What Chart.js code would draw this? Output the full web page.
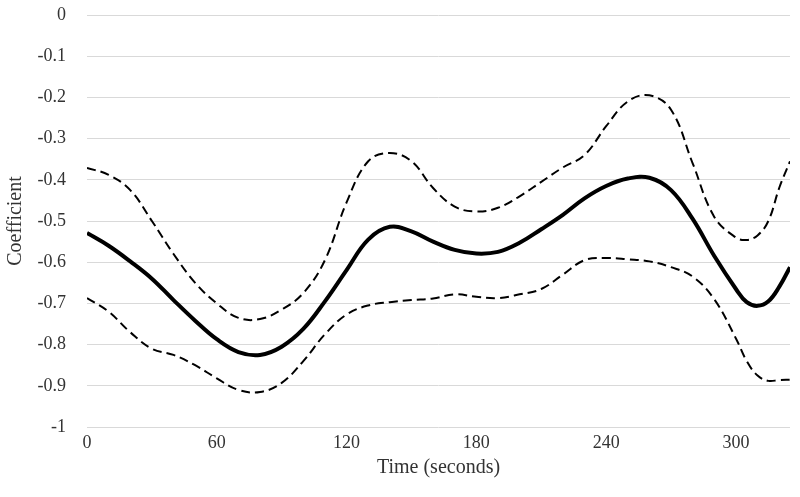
<!DOCTYPE html>
<html>
<head>
<meta charset="utf-8">
<script src="https://cdn.jsdelivr.net/npm/chart.js@4.4.1/dist/chart.umd.min.js"></script>
<style>
  html, body { margin: 0; padding: 0; background: #fff; }
</style>
</head>
<body>
<canvas id="coefChart" width="800" height="497"></canvas>
<script>
// time in seconds
const seconds = [0, 10, 20, 30, 40, 50, 60, 70, 80, 90, 100, 110, 120, 130, 140, 150, 160, 170, 180,
  190, 200, 210, 220, 230, 240, 250, 260, 270, 280, 290, 300, 305, 310, 315, 320, 325];

const coefficient = [-0.529, -0.56, -0.598, -0.64, -0.692, -0.742, -0.787, -0.818, -0.825, -0.805,
  -0.762, -0.695, -0.619, -0.545, -0.514, -0.525, -0.55, -0.57, -0.579, -0.575, -0.553, -0.52,
  -0.485, -0.445, -0.415, -0.397, -0.395, -0.425, -0.495, -0.585, -0.665, -0.697, -0.706,
  -0.695, -0.66, -0.612];

const upperBound = [-0.371, -0.388, -0.425, -0.5, -0.58, -0.65, -0.7, -0.735, -0.738, -0.715,
  -0.675, -0.595, -0.455, -0.355, -0.335, -0.355, -0.42, -0.465, -0.477, -0.468, -0.44, -0.405,
  -0.37, -0.34, -0.27, -0.21, -0.195, -0.23, -0.36, -0.49, -0.54, -0.546, -0.535, -0.5, -0.42,
  -0.355];

const lowerBound = [-0.687, -0.72, -0.77, -0.81, -0.825, -0.85, -0.882, -0.91, -0.915, -0.893,
  -0.84, -0.775, -0.727, -0.705, -0.697, -0.692, -0.688, -0.678, -0.684, -0.687, -0.678, -0.665,
  -0.63, -0.595, -0.59, -0.593, -0.598, -0.612, -0.635, -0.69, -0.785, -0.84, -0.875, -0.888,
  -0.886, -0.885];

const xTicks = [0, 60, 120, 180, 240, 300];

const toPoints = vals => seconds.map((s, i) => ({ x: s, y: vals[i] }));

const textColor = '#333333';
const serif = '"Liberation Serif", "Times New Roman", serif';

new Chart(document.getElementById('coefChart').getContext('2d'), {
  type: 'line',
  data: {
    datasets: [
      {
        label: 'Upper',
        data: toPoints(upperBound),
        borderColor: '#000',
        borderWidth: 2,
        borderDash: [9, 5],
        pointRadius: 0,
        tension: 0.4,
        fill: false
      },
      {
        label: 'Coefficient',
        data: toPoints(coefficient),
        borderColor: '#000',
        borderWidth: 4,
        pointRadius: 0,
        tension: 0.4,
        fill: false
      },
      {
        label: 'Lower',
        data: toPoints(lowerBound),
        borderColor: '#000',
        borderWidth: 2,
        borderDash: [9, 5],
        pointRadius: 0,
        tension: 0.4,
        fill: false
      }
    ]
  },
  options: {
    responsive: false,
    animation: false,
    layout: { padding: { top: 15, right: 10, left: 0, bottom: 0 } },
    plugins: {
      legend: { display: false },
      tooltip: { enabled: false }
    },
    scales: {
      x: {
        type: 'linear',
        min: 0,
        max: 325,
        afterFit: s => { s.height = 70; },
        afterBuildTicks: s => { s.ticks = xTicks.map(v => ({ value: v })); },
        grid: { display: false, drawTicks: false },
        border: { display: false },
        ticks: {
          padding: 5,
          maxRotation: 0,
          color: textColor,
          font: { family: serif, size: 18 }
        },
        title: {
          display: true,
          text: 'Time (seconds)',
          color: textColor,
          font: { family: serif, size: 20 },
          padding: { top: 0, bottom: 17 }
        }
      },
      y: {
        min: -1,
        max: 0,
        // tick padding would otherwise push the plot top down
        afterFit: s => { s.width = 87; s.paddingTop = 0; s.paddingBottom = 0; },
        grid: { color: '#d9d9d9', lineWidth: 1, drawTicks: false },
        border: { display: false },
        ticks: {
          stepSize: 0.1,
          padding: 21,
          color: textColor,
          font: { family: serif, size: 18 },
          callback: v => Math.round(v * 10) / 10
        },
        title: {
          display: true,
          text: 'Coefficient',
          color: textColor,
          font: { family: serif, size: 20 },
          padding: { top: 4, bottom: 0 }
        }
      }
    }
  }
});
</script>
</body>
</html>
